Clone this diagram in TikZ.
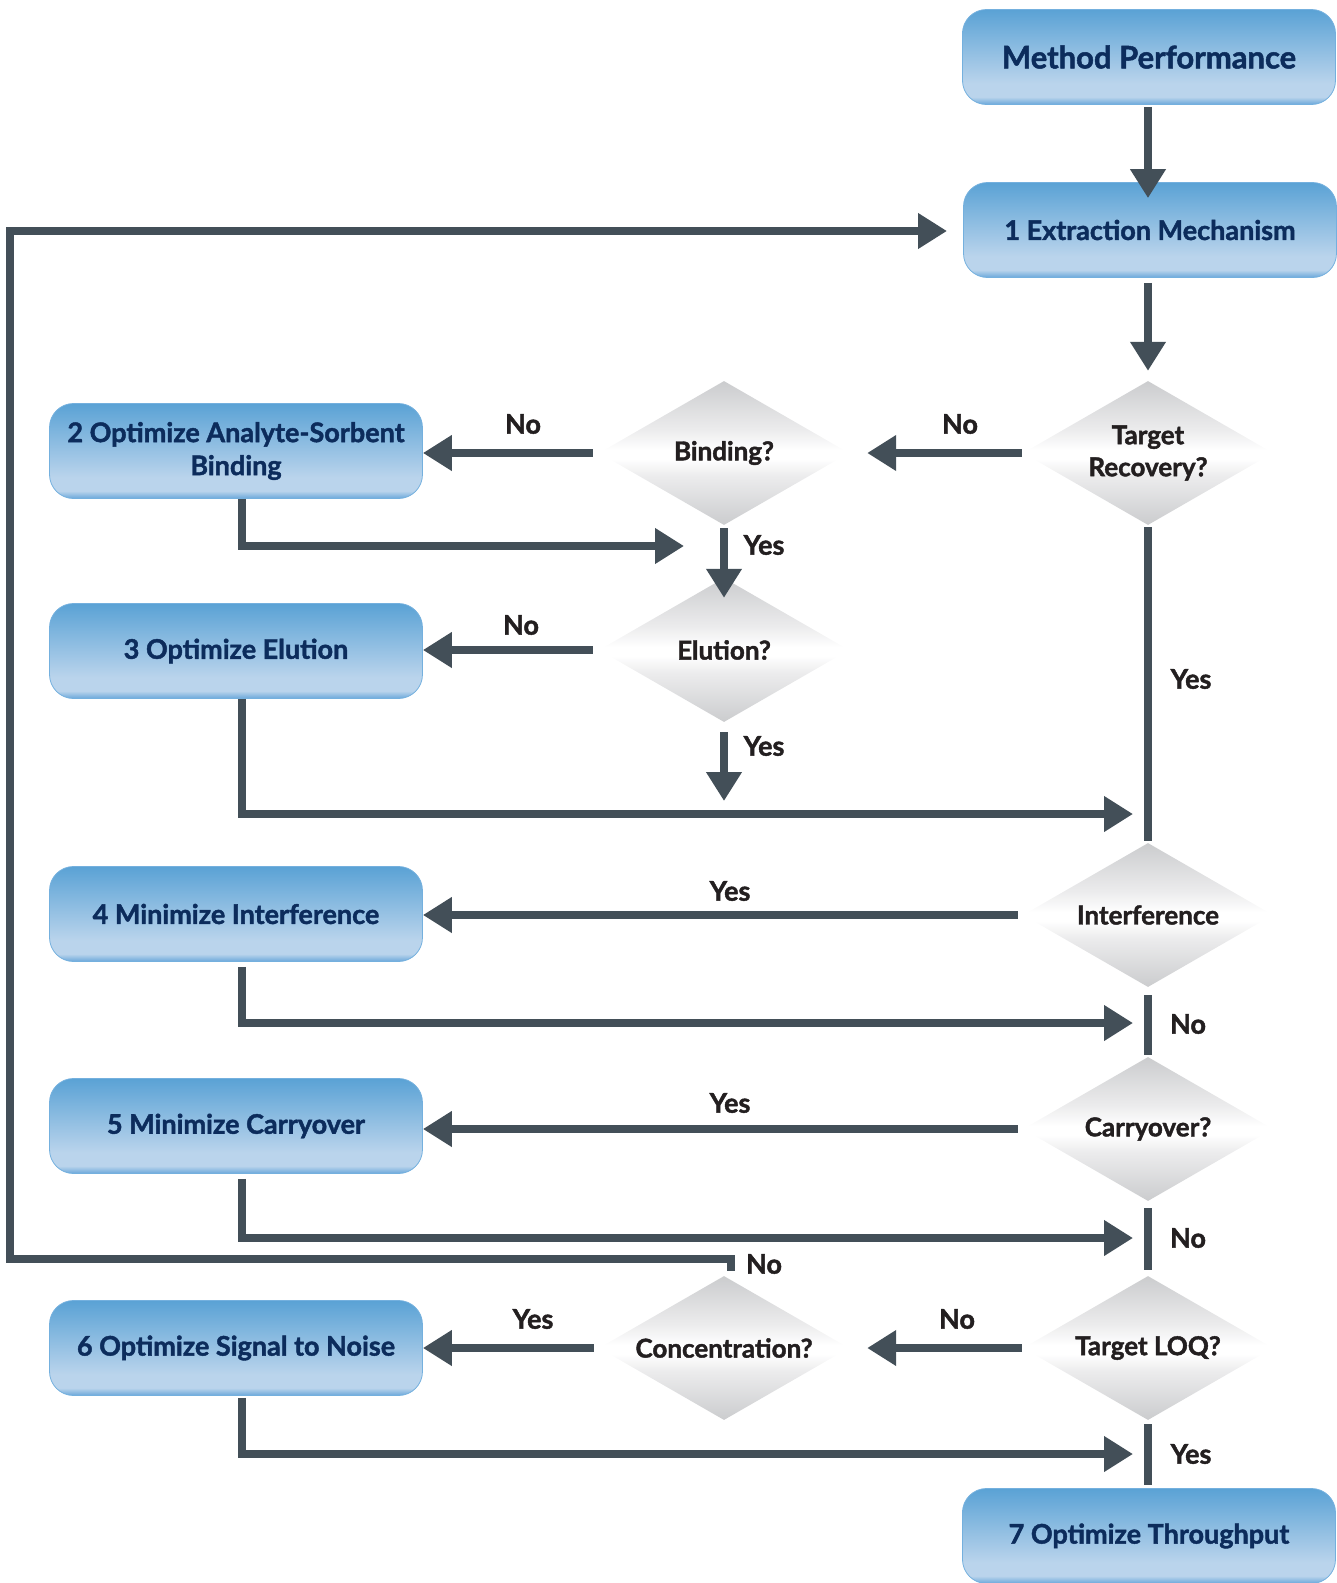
\documentclass[tikz,border=0pt]{standalone}
\usepackage{fontspec}
\setmainfont{Lato}[BoldFeatures={FakeBold=1.6}]
\usetikzlibrary{shapes.geometric,arrows.meta,calc}
\definecolor{ln}{HTML}{434F58}
\definecolor{navy}{HTML}{0C2C5C}
\definecolor{txt}{HTML}{231F20}
\definecolor{bxtop}{HTML}{5AA2D5}
\definecolor{bxlight}{HTML}{BAD4EC}
\definecolor{bxbot}{HTML}{6AA7DA}
\definecolor{bxedge}{HTML}{74B0DE}
\definecolor{dmgray}{HTML}{CBCCCE}
\definecolor{dmmid}{HTML}{ECECED}
\pgfdeclareverticalshading{boxsh}{100bp}{color(0bp)=(bxbot); color(25bp)=(bxbot); color(29bp)=(bxlight); color(36bp)=(bxlight); color(75bp)=(bxtop); color(100bp)=(bxtop)}
\pgfdeclareverticalshading{dmsh}{100bp}{color(0bp)=(dmgray); color(25bp)=(dmgray); color(42bp)=(dmmid); color(48bp)=(white); color(51bp)=(white); color(58bp)=(dmmid); color(75bp)=(dmgray); color(100bp)=(dmgray)}
\begin{document}
\begin{tikzpicture}[x=1pt,y=-1pt,
  box/.style={rounded corners=24pt, shade, shading=boxsh, draw=bxedge, line width=0.8pt,
    minimum width=373pt, minimum height=95pt, text=navy, inner sep=0pt, align=center,
    font=\fontsize{27}{33}\selectfont\bfseries},
  dec/.style={diamond, aspect=1.73, minimum width=250pt, minimum height=144pt, inner sep=0pt,
    shade, shading=dmsh, text=txt, align=center, font=\fontsize{26}{32}\selectfont\bfseries},
  flow/.style={draw=ln, line width=7.5pt},
  arr/.style={flow, -{Triangle[length=29pt,width=34pt]}},
  lab/.style={text=txt, inner sep=0pt, font=\fontsize{27}{30}\selectfont\bfseries}]
\useasboundingbox (0,0) rectangle (1337,1583);
% boxes
\node[box, font=\fontsize{31}{34}\selectfont\bfseries] (mp) at (1149,57) {Method Performance};
\node[box] (ext) at (1150,230) {1 Extraction Mechanism};
\node[box] (b2) at (236,451) {2 Optimize Analyte-Sorbent\\Binding};
\node[box] (b3) at (236,651) {3 Optimize Elution};
\node[box] (b4) at (236,914) {4 Minimize Interference};
\node[box] (b5) at (236,1126) {5 Minimize Carryover};
\node[box] (b6) at (236,1348) {6 Optimize Signal to Noise};
\node[box] (b7) at (1149,1536) {7 Optimize Throughput};
% decisions
\node[dec] (tr) at (1148,453) {Target\\Recovery?};
\node[dec] (bind) at (724,453) {Binding?};
\node[dec] (elu) at (724,650) {Elution?};
\node[dec] (intf) at (1148,915) {Interference};
\node[dec] (carry) at (1148,1129) {Carryover?};
\node[dec] (loq) at (1148,1348) {Target LOQ?};
\node[dec] (conc) at (724,1348) {Concentration?};
% free ends
\coordinate (c2) at (684,546);
\coordinate (c3) at (1133,814);
\coordinate (c4) at (1133,1023);
\coordinate (c5) at (1133,1238);
\coordinate (c6) at (1133,1454);
\coordinate (eluend) at (724,801);
\coordinate (loopA) at (731,1259);
\coordinate (loopB) at (10,1259);
\coordinate (loopC) at (10,231);
\coordinate (loopD) at (947,231);
% connectors
\draw[arr] ($(mp.south)+(-1,2)$) -- ($(ext.north)+(-2,16)$);
\draw[arr] ($(ext.south)+(-2,5)$) -- ($(tr.north)+(0,-10)$);
\draw[arr] ($(tr.west)+(-1,0)$) -- ($(bind.east)+(18,0)$);
\draw[arr] ($(bind.west)+(-6,0)$) -- (bind.west -| b2.east);
\draw[arr] ($(b2.south)+(6,0)$) |- (c2);
\draw[arr] ($(bind.south)+(0,3)$) -- ($(elu.north)+(0,20)$);
\draw[arr] ($(elu.west)+(-6,0)$) -- (elu.west -| b3.east);
\draw[arr] ($(elu.south)+(0,10)$) -- (eluend);
\draw[arr] ($(b3.south)+(6,0)$) |- (c3);
\draw[flow] ($(tr.south)+(0,2)$) -- ($(intf.north)+(0,-2)$);
\draw[arr] ($(intf.west)+(-5,0)$) -- (intf.west -| b4.east);
\draw[arr] ($(b4.south)+(6,5)$) |- (c4);
\draw[flow] ($(intf.south)+(0,8)$) -- ($(carry.north)+(0,-2)$);
\draw[arr] ($(carry.west)+(-5,0)$) -- (carry.west -| b5.east);
\draw[arr] ($(b5.south)+(6,5)$) |- (c5);
\draw[flow] ($(carry.south)+(0,7)$) -- ($(loq.north)+(0,-6)$);
\draw[arr] ($(loq.west)+(-1,0)$) -- ($(conc.east)+(18,0)$);
\draw[arr] ($(conc.west)+(-5,0)$) -- (conc.west -| b6.east);
\draw[arr] ($(b6.south)+(6,2)$) |- (c6);
\draw[flow] ($(loq.south)+(0,4)$) -- ($(b7.north)+(-1,-3)$);
\draw[arr] ($(conc.north)+(7,-5)$) -- (loopA) -- (loopB) -- (loopC) -- (loopD);
% labels
\node[lab] (l1) at (960,424) {No};
\node[lab] (l2) at (523,424) {No};
\node[lab] (l3) at (764,545) {Yes};
\node[lab] (l4) at (521,625) {No};
\node[lab] (l5) at (764,746) {Yes};
\node[lab] (l6) at (1191,679) {Yes};
\node[lab] (l7) at (730,891) {Yes};
\node[lab] (l8) at (1188,1024) {No};
\node[lab] (l9) at (730,1103) {Yes};
\node[lab] (l10) at (1188,1238) {No};
\node[lab] (l11) at (957,1319) {No};
\node[lab] (l12) at (533,1319) {Yes};
\node[lab] (l13) at (1191,1454) {Yes};
\node[lab] (l14) at (764,1264) {No};
\end{tikzpicture}
\end{document}
